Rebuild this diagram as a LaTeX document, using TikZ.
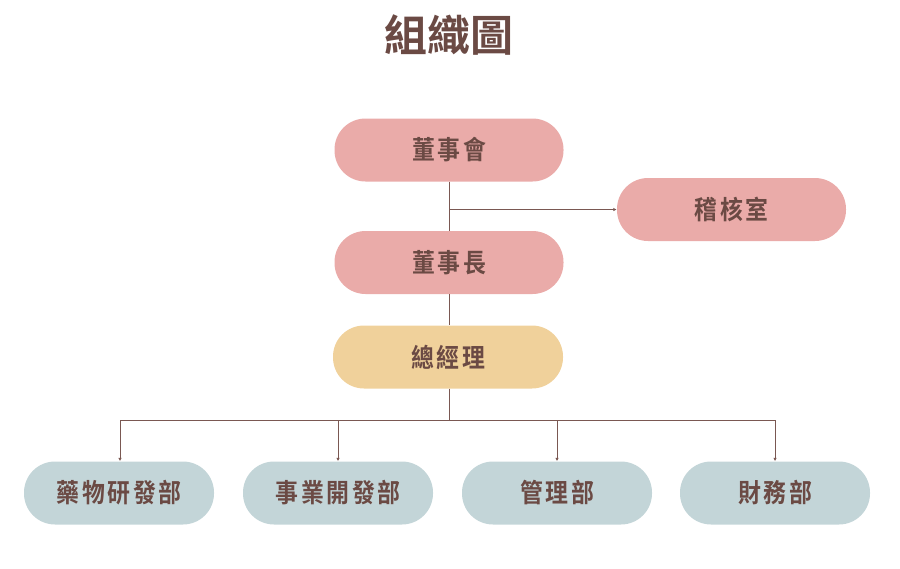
\documentclass[tikz,border=0pt]{standalone}
\usepackage{fontspec}
\setmainfont{Noto Sans CJK TC}[BoldFont={* Bold}]
\newfontfamily\cjkb{Noto Sans CJK TC Bold}
\newfontfamily\cjkbox[FakeStretch=0.88,LetterSpace=10]{Noto Sans CJK TC Bold}
\usetikzlibrary{arrows.meta}
\definecolor{pinkbox}{HTML}{EAABA9}
\definecolor{yellowbox}{HTML}{F0D19B}
\definecolor{bluebox}{HTML}{C3D5D8}
\definecolor{txtbrown}{HTML}{6B4A44}
\definecolor{linebrown}{HTML}{7A5852}
\tikzset{
  pill/.style={rounded corners=31pt, minimum height=63pt, inner sep=0pt, font=\cjkbox\fontsize{26}{28}\selectfont, text=txtbrown},
  topbox/.style={pill, fill=pinkbox, minimum width=229pt},
  gmbox/.style={pill, fill=yellowbox, minimum width=230pt},
  deptbox/.style={pill, fill=bluebox, minimum width=190pt},
  conn/.style={draw=linebrown, line width=0.9pt},
  arr/.style={conn, -{Latex[length=3.5pt,width=3.5pt]}},
}
\begin{document}
\begin{tikzpicture}[x=1pt,y=-1pt]
\useasboundingbox (0,0) rectangle (900,568);
\node[text=txtbrown, font=\cjkb\fontsize{43}{45}\selectfont] (title) at (449,35) {組織圖};
\node[topbox] (board) at (449,150) {董事會};
\node[topbox] (audit) at (731.5,209.5) {稽核室};
\node[topbox] (chair) at (449,262.5) {董事長};
\node[gmbox] (gm) at (448,357) {總經理};
\node[deptbox] (d1) at (119,493) {藥物研發部};
\node[deptbox] (d2) at (338,493) {事業開發部};
\node[deptbox] (d3) at (557,493) {管理部};
\node[deptbox] (d4) at (775,493) {財務部};
\coordinate (j1) at (449,209.5);
\coordinate (j2) at (449,420);
\coordinate (h1) at (120,420);
\coordinate (h4) at (775,420);
\draw[conn] (board.south -| j1) -- (chair.north -| j1);
\draw[arr] (j1) -- (audit.west);
\draw[conn] (chair.south -| j1) -- (gm.north -| j1);
\draw[conn] (gm.south -| j2) -- (j2);
\draw[conn] (h1) -- (h4);
\draw[arr] (h1) -- (h1 |- d1.north);
\draw[arr] (j2 -| d2.north) -- (d2.north);
\draw[arr] (j2 -| d3.north) -- (d3.north);
\draw[arr] (h4) -- (h4 |- d4.north);
\end{tikzpicture}
\end{document}
